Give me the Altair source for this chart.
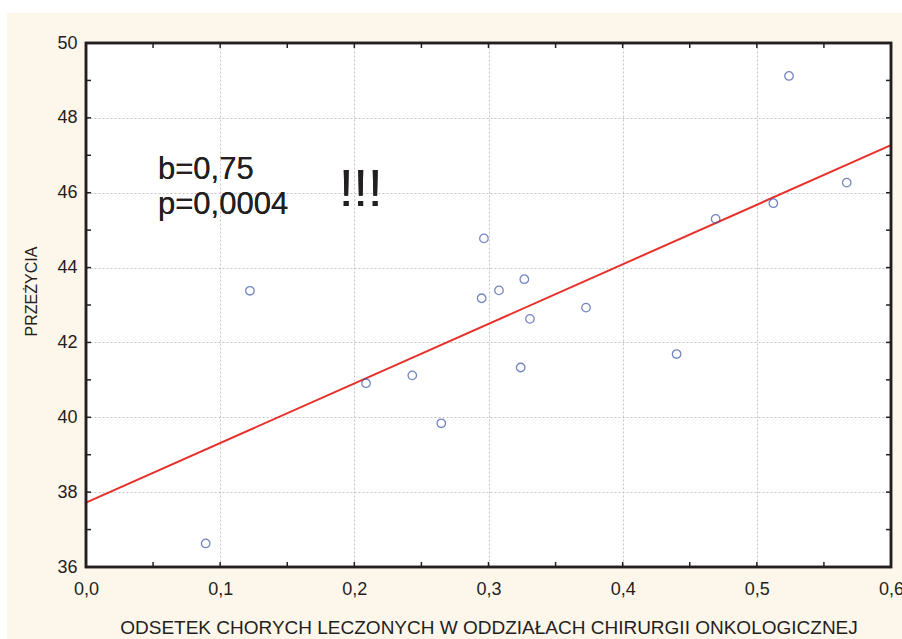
import altair as alt
import pandas as pd

# ---- data ----
odsetek = [0.0892, 0.1222, 0.2087, 0.2432, 0.2648, 0.2949, 0.2966, 0.3078, 0.3240,
           0.3267, 0.3309, 0.3727, 0.4402, 0.4693, 0.5123, 0.5240, 0.5670]
przezycia = [36.63, 43.38, 40.91, 41.12, 39.84, 43.18, 44.78, 43.39, 41.33,
             43.69, 42.63, 42.93, 41.69, 45.30, 45.72, 49.12, 46.27]

fit_x = [0.0, 0.6]
fit_y = [37.72, 47.27]

x_major = [0.0, 0.1, 0.2, 0.3, 0.4, 0.5, 0.6]
y_major = [36, 38, 40, 42, 44, 46, 48, 50]
x_ticks = [0.05, 0.1, 0.15, 0.2, 0.25, 0.3, 0.35, 0.4, 0.45, 0.5, 0.55]
y_ticks = [37, 38, 39, 40, 41, 42, 43, 44, 45, 46, 47, 48, 49]

x_title = "ODSETEK CHORYCH LECZONYCH W ODDZIAŁACH CHIRURGII ONKOLOGICZNEJ"
y_title = "PRZEŻYCIA"
ann_b = "b=0,75"
ann_p = "p=0,0004"
ann_excl = "!!!"

# ---- tables ----
pts = pd.DataFrame({"x": odsetek, "y": przezycia})
fit = pd.DataFrame({"x": fit_x, "y": fit_y})
xt = pd.DataFrame({"x": x_ticks})
yt = pd.DataFrame({"y": y_ticks})

W, H = 805, 524
FONT = "Liberation Sans"
INK = "#231f20"
CREAM = "#fdf6ea"

xs = alt.Scale(domain=[0, 0.6], nice=False, zero=False)
ys = alt.Scale(domain=[36, 50], nice=False, zero=False)

x_axis = alt.Axis(
    values=x_major, grid=True, gridColor="#c4c4c4", gridDash=[2, 2], gridWidth=1,
    ticks=False, domain=False,
    labelExpr="replace(format(datum.value, '.1f'), '.', ',')",
    labelFont=FONT, labelFontSize=18, labelColor=INK, labelPadding=13,
    labelFlush=False, labelOverlap=False,
    title=x_title, titleFont=FONT, titleFontSize=19, titleFontWeight="normal",
    titleColor=INK, titleY=66, titleBaseline="alphabetic",
)
y_axis = alt.Axis(
    values=y_major, grid=True, gridColor="#c4c4c4", gridDash=[2, 2], gridWidth=1,
    ticks=False, domain=False, format="d",
    labelFont=FONT, labelFontSize=18, labelColor=INK, labelPadding=9,
    labelFlush=False, labelOverlap=False,
    title=y_title, titleFont=FONT, titleFontSize=16, titleFontWeight="normal",
    titleColor=INK, titleX=-50, titleY=248, titleBaseline="alphabetic",
)

# white strips at top and left of the page (outside the plot)
strip_top = alt.Chart(pts).mark_rect(color="white").encode(
    x=alt.value(-86), x2=alt.value(816), y=alt.value(-43), y2=alt.value(-30))
strip_left = alt.Chart(pts).mark_rect(color="white").encode(
    x=alt.value(-86), x2=alt.value(-79), y=alt.value(-43), y2=alt.value(596))

points = alt.Chart(pts).mark_point(
    shape="circle", filled=False, size=72, strokeWidth=1.3, color="#3a52a8"
).encode(
    x=alt.X("x:Q", scale=xs, axis=x_axis),
    y=alt.Y("y:Q", scale=ys, axis=y_axis),
)

line = alt.Chart(fit).mark_line(color="#e8302a", strokeWidth=2).encode(
    x=alt.X("x:Q", scale=xs), y=alt.Y("y:Q", scale=ys))

tick_style = dict(color=INK, strokeWidth=1.5)
xt_bot = alt.Chart(xt).mark_rule(**tick_style).encode(
    x=alt.X("x:Q", scale=xs), y=alt.value(H - 5), y2=alt.value(H))
xt_top = alt.Chart(xt).mark_rule(**tick_style).encode(
    x=alt.X("x:Q", scale=xs), y=alt.value(0), y2=alt.value(5))
yt_left = alt.Chart(yt).mark_rule(**tick_style).encode(
    y=alt.Y("y:Q", scale=ys), x=alt.value(0), x2=alt.value(5))
yt_right = alt.Chart(yt).mark_rule(**tick_style).encode(
    y=alt.Y("y:Q", scale=ys), x=alt.value(W - 5), x2=alt.value(W))

frame = alt.Chart(fit).mark_rect(filled=False, stroke=INK, strokeWidth=2.5).encode(
    x=alt.datum(0.0, scale=xs), x2=alt.datum(0.6),
    y=alt.datum(36, scale=ys), y2=alt.datum(50))

txt_style = dict(font=FONT, align="left", baseline="alphabetic", color=INK)
t_b = alt.Chart(fit).mark_text(text=ann_b, fontSize=31, **txt_style).encode(
    x=alt.value(72), y=alt.value(136))
t_p = alt.Chart(fit).mark_text(text=ann_p, fontSize=31, **txt_style).encode(
    x=alt.value(72), y=alt.value(171))
t_ex = alt.Chart(fit).mark_text(text=ann_excl, fontSize=52, **txt_style).encode(
    x=alt.value(253), y=alt.value(163))

chart = alt.layer(
    strip_top, strip_left, line, points, xt_bot, xt_top, yt_left, yt_right,
    frame, t_b, t_p, t_ex
).properties(
    width=W, height=H,
    autosize=alt.AutoSizeParams(type="none"),
    padding={"left": 86, "top": 43, "right": 11, "bottom": 72},
    background=CREAM,
).configure_view(fill="white", stroke=None)

chart.save("out.html", embed_options={"renderer": "svg", "actions": False})
